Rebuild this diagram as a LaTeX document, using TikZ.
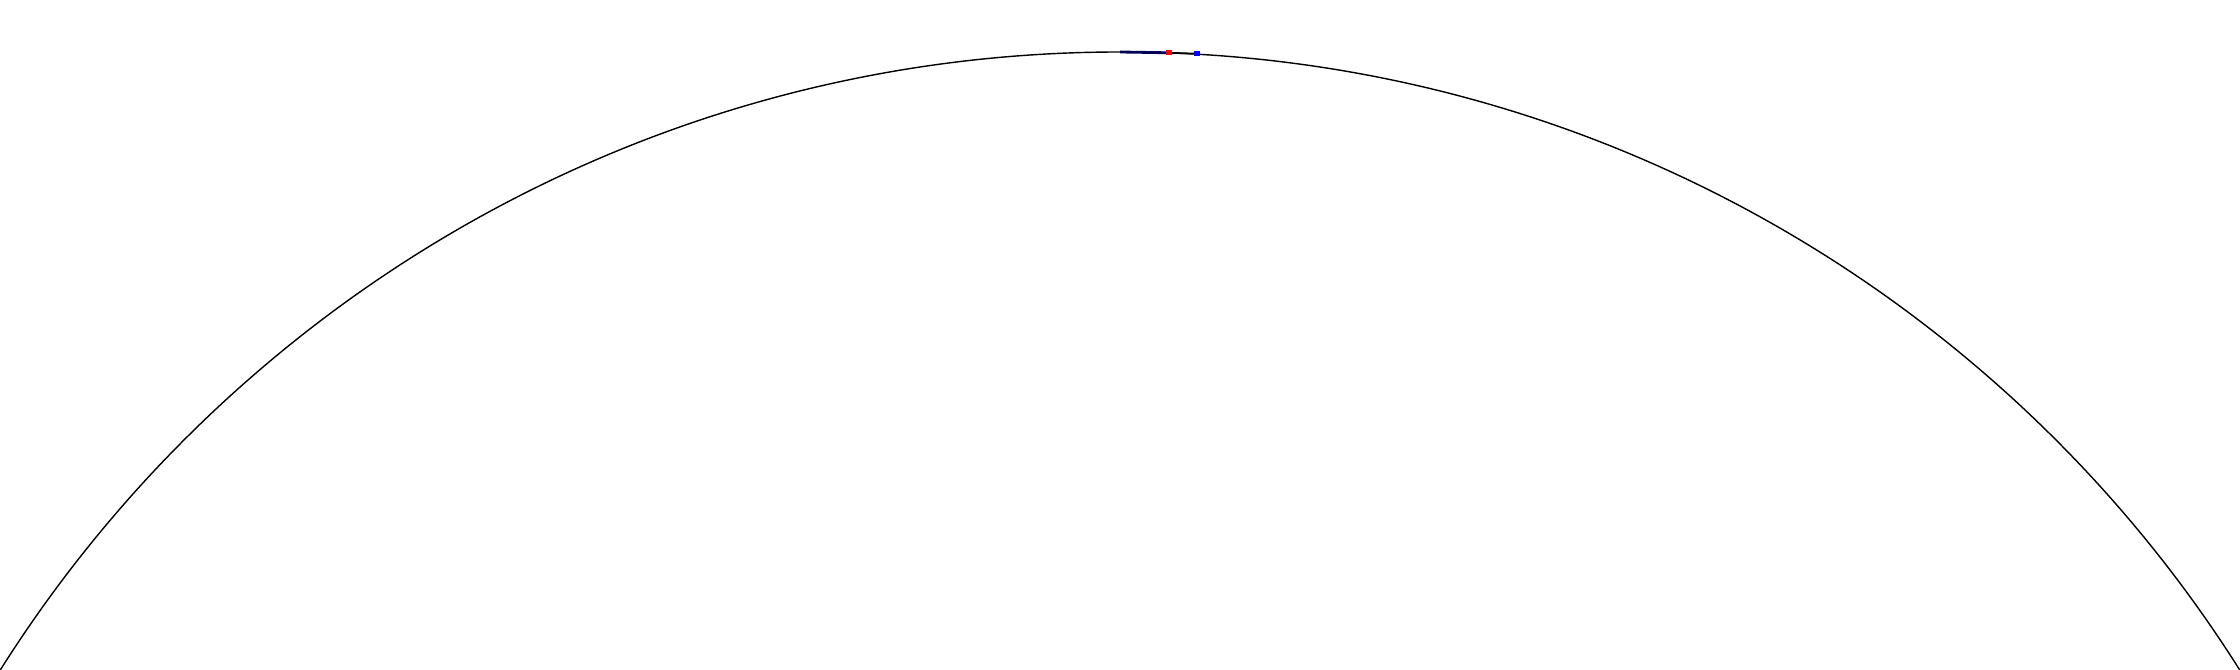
\documentclass[tikz,border=0pt]{standalone}
\usepackage{tikz}

\tikzset{
  dot/.style = {rectangle, inner sep=0pt, minimum size=1.5pt},
}

\begin{document}
\begin{tikzpicture}[scale=1]
   \useasboundingbox (0,0) rectangle (22.4,6.7);
   \clip (0,0) rectangle (22.4,6.7);
   \coordinate (O) at (11.2,-7.05);
   \coordinate (T) at (11.2,6.18);
   \coordinate (P) at (11.69,6.172);
   \coordinate (Q) at (11.97,6.163);
   \draw[line width=0.4pt] (O) circle (13.23);
   \draw[blue!35!black,line width=0.8pt] (T) -- (P);
   \draw[line width=0.5pt] (P) -- (Q);
   \node[dot,fill=red]  (Pdot) at (P) {};
   \node[dot,fill=blue] (Qdot) at (Q) {};
\end{tikzpicture}
\end{document}
